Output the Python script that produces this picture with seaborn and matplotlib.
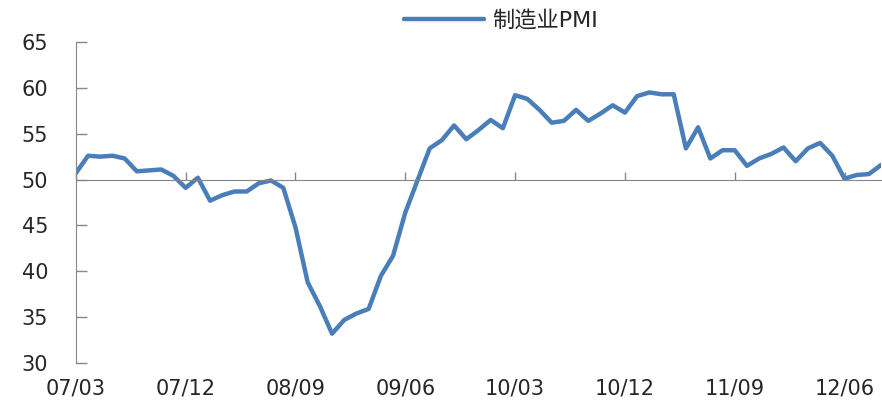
import numpy as np
import pandas as pd
import matplotlib
matplotlib.use("Agg")
import matplotlib.pyplot as plt
import seaborn as sns

sns.set_style("white")
plt.rcParams['font.family'] = ['DejaVu Sans', 'Noto Sans CJK SC']

# monthly manufacturing PMI, 2007/03 - 2012/09
months = pd.period_range("2007-03", "2012-09", freq="M").strftime("%y/%m").tolist()
pmi = [50.7, 52.6, 52.5, 52.6, 52.3, 50.9, 51.0, 51.1, 50.4, 49.1,
       50.2, 47.7, 48.3, 48.7, 48.7, 49.6, 49.9, 49.1, 44.8, 38.8,
       36.2, 33.2, 34.7, 35.4, 35.9, 39.5, 41.7, 46.4, 49.9, 53.4,
       54.3, 55.9, 54.4, 55.4, 56.5, 55.6, 59.2, 58.8, 57.6, 56.2,
       56.4, 57.6, 56.4, 57.2, 58.1, 57.3, 59.1, 59.5, 59.3, 59.3,
       53.4, 55.7, 52.3, 53.2, 53.2, 51.5, 52.3, 52.8, 53.5, 52.0,
       53.4, 54.0, 52.6, 50.1, 50.5, 50.6, 51.6]
label_step = 9
series_name = "制造业PMI"

df = pd.DataFrame({"idx": np.arange(len(pmi)), "pmi": pmi, "name": series_name})

fig = plt.figure(figsize=(8.82, 4.0), dpi=100)
ax = fig.add_axes([0.086, 0.0925, 0.913, 0.8025])

sns.lineplot(data=df, x="idx", y="pmi", hue="name", palette=["#4A7EBB"],
             lw=3.2, ax=ax, legend=False)

axis_col = "#868686"
ax.set_xlim(0, len(pmi) - 1)
ax.set_ylim(30, 65)
ax.set_yticks(np.arange(30, 66, 5))
ax.tick_params(axis='y', left=True, direction='in', length=8, width=1, color=axis_col,
               labelsize=15, pad=20)

# x axis line sits on 50, labels stay at the bottom
ticks = np.arange(0, len(pmi), label_step)
for s in ['top', 'right']:
    ax.spines[s].set_visible(False)
ax.spines['left'].set_color(axis_col)
ax.spines['bottom'].set_color(axis_col)
ax.spines['bottom'].set_position(('data', 50))
ax.set_xticks(ticks)
ax.tick_params(axis='x', bottom=True, direction='in', length=6, width=1, color=axis_col,
               labelbottom=False)

sec = ax.secondary_xaxis('bottom')
sec.set_xticks(ticks)
sec.set_xticklabels([months[i] for i in ticks])
sec.spines['bottom'].set_visible(False)
sec.tick_params(length=0, labelsize=15, pad=11)

ax.set_xlabel("")
ax.set_ylabel("")

handle = plt.Line2D([], [], color="#4A7EBB", lw=3.2)
fig.legend([handle], [series_name], loc='center', bbox_to_anchor=(0.568, 0.95),
           frameon=False, fontsize=16, handlelength=3.6, handletextpad=0.4)

fig.savefig("out.png", dpi=100, facecolor="white")
